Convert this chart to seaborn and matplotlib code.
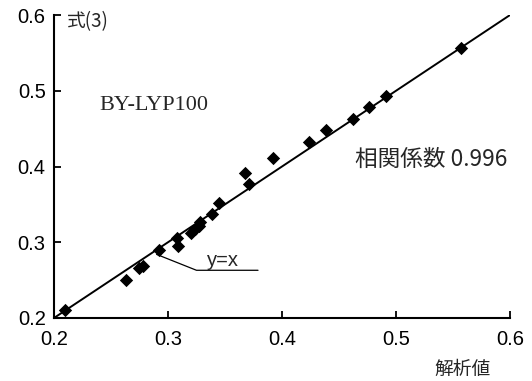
import matplotlib
matplotlib.use("Agg")
import matplotlib.pyplot as plt
import seaborn as sns
import pandas as pd

# Analysis values (x) vs. values from equation (3) (y)
analysis = [0.210, 0.263, 0.275, 0.278, 0.292, 0.308, 0.309, 0.320, 0.324,
            0.327, 0.328, 0.339, 0.345, 0.368, 0.371, 0.392, 0.424, 0.439,
            0.462, 0.476, 0.491, 0.557]
formula3 = [0.210, 0.250, 0.266, 0.269, 0.290, 0.306, 0.295, 0.312, 0.318,
            0.322, 0.327, 0.337, 0.352, 0.391, 0.377, 0.411, 0.432, 0.448,
            0.463, 0.479, 0.493, 0.557]
ticks = [0.2, 0.3, 0.4, 0.5, 0.6]
tick_labels = ["0.2", "0.3", "0.4", "0.5", "0.6"]
identity = [0.2, 0.6]

df = pd.DataFrame({"x": analysis, "y": formula3})

sns.set_style("ticks")
plt.rcParams["font.family"] = ["Liberation Sans", "Noto Sans CJK JP"]
cjk = ["Noto Sans CJK JP", "Liberation Sans"]

fig = plt.figure(figsize=(5.32, 3.81), dpi=100)
ax = fig.add_axes([0.1015, 0.1654, 0.857, 0.795])

ax.plot(identity, identity, color="black", lw=1.4, zorder=2)
sns.scatterplot(data=df, x="x", y="y", marker="D", s=46, color="black",
                edgecolor="black", linewidth=0, ax=ax, zorder=3)

ax.set_xlim(0.2, 0.6)
ax.set_ylim(0.2, 0.6)
ax.set_xticks(ticks)
ax.set_xticklabels(tick_labels)
ax.set_yticks(ticks)
ax.set_yticklabels(tick_labels)
ax.tick_params(direction="in", length=5, width=1.3, labelsize=14.5,
               colors="black")
ax.tick_params(axis="x", pad=9)
ax.tick_params(axis="y", pad=6)
ax.set_xlabel("")
ax.set_ylabel("")
for side in ("top", "right"):
    ax.spines[side].set_visible(False)
for side in ("left", "bottom"):
    ax.spines[side].set_linewidth(1.5)
    ax.spines[side].set_color("black")

ax.text(0.211, 0.591, "式(3)", fontsize=13.5, family=cjk, va="center", ha="left")
fig.text(0.922, 0.031, "解析値", fontsize=13.5, family=cjk,
         va="center", ha="right")
ax.text(0.24, 0.48, "BY-LYP100", fontsize=16, family="Liberation Serif",
        va="center", ha="left")
ax.text(0.4645, 0.409, "相関係数 0.996", fontsize=16.3, family=cjk,
        va="center", ha="left")

# y=x label with leader line
ax.plot([0.290, 0.325, 0.379], [0.284, 0.263, 0.263], color="black", lw=0.9)
ax.text(0.348, 0.264, "y=x", fontsize=14.5, va="bottom", ha="center")

fig.savefig("out.png", dpi=100)
